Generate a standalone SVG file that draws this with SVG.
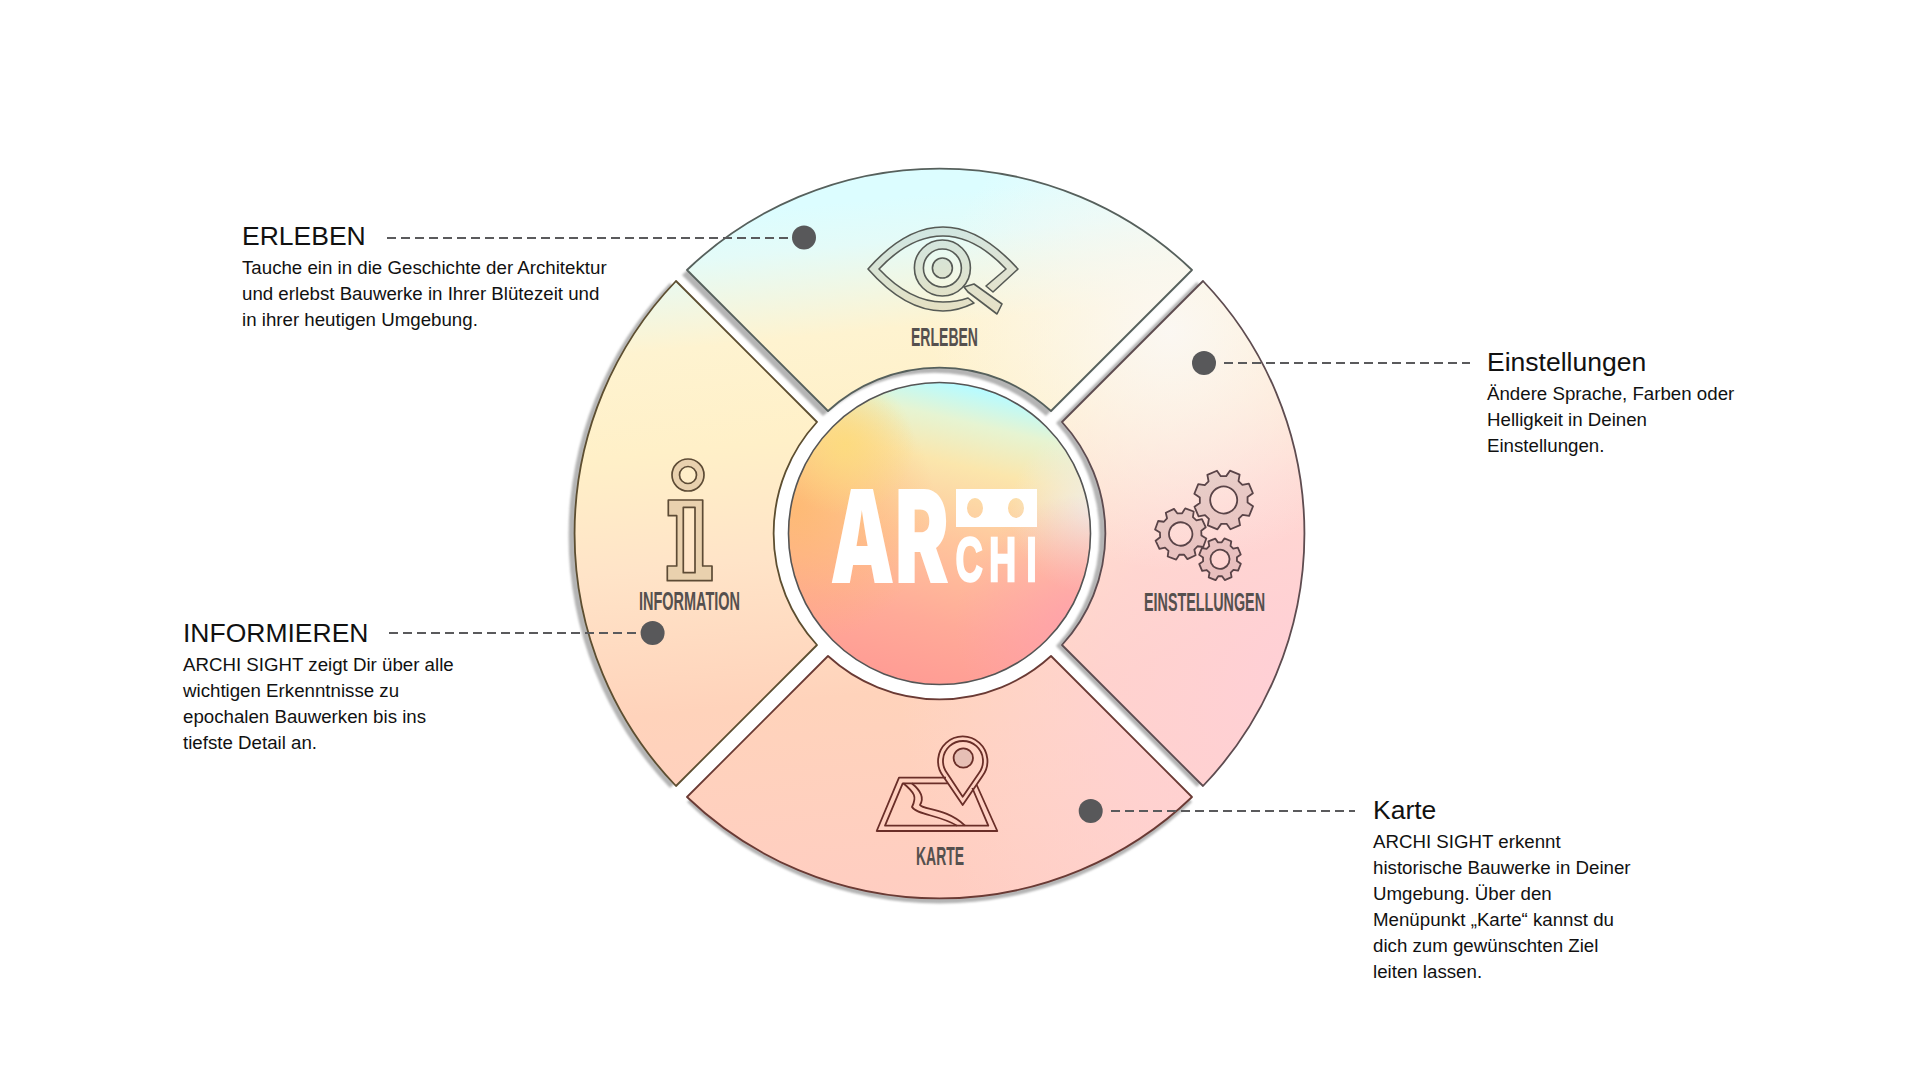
<svg xmlns="http://www.w3.org/2000/svg" width="1920" height="1080" viewBox="0 0 1920 1080">
<style>
.head{font-family:"Liberation Sans",Arial,sans-serif;font-size:26.5px;fill:#111}
.body{font-family:"Liberation Sans",Arial,sans-serif;font-size:18.7px;fill:#111}
.lab{font-family:"Liberation Sans Narrow","Liberation Sans",Arial,sans-serif;font-weight:700;font-size:25px;fill:#55504e}
.logo{font-family:Inter,"Liberation Sans",Arial,sans-serif;font-weight:900;fill:#fff}
.logo2{font-family:"Liberation Sans Narrow","Liberation Sans",Arial,sans-serif;font-weight:700;fill:#fff;stroke:#fff;stroke-width:2.4}
.lead{stroke:#5a5a5c;stroke-width:2;stroke-dasharray:9 5;fill:none}
.dot{fill:#58585a}
.wedge{fill:url(#wheel);stroke:none}
.outline{fill:none;stroke-width:1.8;stroke-linejoin:round}
.pink{fill:url(#pink);stroke:none}
.pale{fill:url(#pale);stroke:none}
.shadow{fill:#b4b4b4;filter:url(#blur)}
.gear{fill:#4a2a30;fill-opacity:.12;fill-rule:evenodd;stroke:#5a4448;stroke-linejoin:round}
</style>
<defs>
<filter id="blur" x="-10%" y="-10%" width="120%" height="120%"><feGaussianBlur stdDeviation="1"/></filter>
<linearGradient id="wheel" gradientUnits="userSpaceOnUse" x1="920" y1="180" x2="990" y2="900">
<stop offset="0.02" stop-color="#dcfdff"/><stop offset="0.08" stop-color="#e4fbf8"/><stop offset="0.2" stop-color="#fef3d0"/><stop offset="0.34" stop-color="#fff0c8"/><stop offset="0.5" stop-color="#ffe4c8"/><stop offset="0.7" stop-color="#ffd3bb"/><stop offset="1" stop-color="#ffcdc2"/>
</linearGradient>
<radialGradient id="pink" gradientUnits="userSpaceOnUse" cx="1310" cy="680" r="410">
<stop offset="0" stop-color="#ffcfd8" stop-opacity=".95"/><stop offset=".5" stop-color="#ffd2d6" stop-opacity=".7"/><stop offset="1" stop-color="#ffd8d8" stop-opacity="0"/>
</radialGradient>
<radialGradient id="pale" gradientUnits="userSpaceOnUse" cx="1170" cy="330" r="240">
<stop offset="0" stop-color="#fbf8f4" stop-opacity=".95"/><stop offset="1" stop-color="#fbf8f4" stop-opacity="0"/>
</radialGradient>
<linearGradient id="disc" gradientUnits="userSpaceOnUse" x1="985" y1="385" x2="915" y2="688">
<stop offset="0.02" stop-color="#b8fbff"/><stop offset="0.13" stop-color="#e6f4d2"/><stop offset="0.27" stop-color="#fbe6ac"/><stop offset="0.52" stop-color="#ffc49c"/><stop offset="0.78" stop-color="#ffaa98"/><stop offset="1" stop-color="#ff9b94"/>
</linearGradient>
<radialGradient id="discL" gradientUnits="userSpaceOnUse" cx="795" cy="505" r="140"><stop offset="0" stop-color="#fdb768" stop-opacity=".75"/><stop offset="1" stop-color="#fdb768" stop-opacity="0"/></radialGradient>
<radialGradient id="discY" gradientUnits="userSpaceOnUse" cx="845" cy="445" r="70"><stop offset="0" stop-color="#fddc7c" stop-opacity=".85"/><stop offset="1" stop-color="#fddc7c" stop-opacity="0"/></radialGradient>
<radialGradient id="discW" gradientUnits="userSpaceOnUse" cx="1095" cy="510" r="85"><stop offset="0" stop-color="#efeeea" stop-opacity=".95"/><stop offset="1" stop-color="#efeeea" stop-opacity="0"/></radialGradient>
<radialGradient id="discP" gradientUnits="userSpaceOnUse" cx="1085" cy="625" r="130"><stop offset="0" stop-color="#ff9cb0" stop-opacity=".8"/><stop offset="1" stop-color="#ff9cb0" stop-opacity="0"/></radialGradient>
<path id="wTop" d="M687,270 A365,365 0 0 1 1192,270 L1051,411 A165,165 0 0 0 828,411 Z"/>
<path id="wBot" d="M687,797 A365,365 0 0 0 1192,797 L1051,656 A165,165 0 0 1 828,656 Z"/>
<path id="wLeft" d="M676,281 A365,365 0 0 0 676,786 L817,645 A165,165 0 0 1 817,422 Z"/>
<path id="wRight" d="M1203,281 A365,365 0 0 1 1203,786 L1062,645 A165,165 0 0 0 1062,422 Z"/>
<path id="gearShape" d="M.7,.388L.819,.573L.573,.819L.388,.7L.221,.769L.174,.985L-.174,.985L-.221,.769L-.388,.7L-.573,.819L-.819,.573L-.7,.388L-.769,.221L-.985,.174L-.985,-.174L-.769,-.221L-.7,-.388L-.819,-.573L-.573,-.819L-.388,-.7L-.221,-.769L-.174,-.985L.174,-.985L.221,-.769L.388,-.7L.573,-.819L.819,-.573L.7,-.388L.769,-.221L.985,-.174L.985,.174L.769,.221ZM.45,0A.45,.45 0 1 0 -.45,0A.45,.45 0 1 0 .45,0Z"/>
</defs>
<rect width="1920" height="1080" fill="#fff"/>

<g id="wheel-shadows">
<use href="#wTop" class="shadow" transform="translate(-5,5)"/>
<use href="#wRight" class="shadow" transform="translate(-6,1)"/>
<use href="#wBot" class="shadow" transform="translate(0,5)"/>
<use href="#wLeft" class="shadow" transform="translate(-6,2)"/>
</g>

<g id="node-erleben">
<use href="#wTop" class="wedge"/><use href="#wTop" class="pale"/>
<use href="#wTop" class="outline" stroke="#56605c"/>
<g stroke="#565a55" stroke-width="1.6" stroke-linejoin="round" fill="#5a5a40" fill-opacity=".13">
<path d="M868,269Q905,227 943,227Q980,227 1018,269L993,292L986,286L1006,269Q975,236 943,236Q910,236 879,269Q910,302 943,302Q957,302 968,298L974,303Q958,311 943,311Q905,311 868,269Z"/>
<path fill-rule="evenodd" d="M970.4,268A28,28 0 1 0 914.4,268A28,28 0 1 0 970.4,268ZM961.4,268A19,19 0 1 1 923.4,268A19,19 0 1 1 961.4,268Z"/>
<circle cx="942.4" cy="268" r="10"/>
<path d="M964,287L974,284L1002,304L997,314L968,292Z"/>
</g>
<text class="lab" x="911" y="345.5" textLength="67" lengthAdjust="spacingAndGlyphs">ERLEBEN</text>
</g>

<g id="node-einstellungen">
<use href="#wRight" class="wedge"/><use href="#wRight" class="pink"/><use href="#wRight" class="pale"/>
<use href="#wRight" class="outline" stroke="#5e4c50"/>
<use href="#gearShape" class="gear" stroke-width=".06" transform="translate(1223.7,500) scale(30) rotate(22)"/>
<use href="#gearShape" class="gear" stroke-width=".069" transform="translate(1180.7,534) scale(26) rotate(20)"/>
<use href="#gearShape" class="gear" stroke-width=".085" transform="translate(1220,559.3) scale(21.3) rotate(22)"/>
<text class="lab" x="1144" y="611" textLength="121" lengthAdjust="spacingAndGlyphs">EINSTELLUNGEN</text>
</g>

<g id="node-karte">
<use href="#wBot" class="wedge"/><use href="#wBot" class="pink"/>
<use href="#wBot" class="outline" stroke="#6a3a34"/>
<g fill="none" stroke="#6a2e28" stroke-width="1.8" stroke-linejoin="round">
<path d="M946,777.7L899,777.7L876.7,831L997.3,831L976.7,785"/>
<path d="M948,783.3L902.7,783.3L885,825.7L988.3,825.7L972.3,788"/>
<path d="M903.3,783.3C915,793 917,797 912,807C917,815 940,815 957,825.7"/>
<path d="M911.7,783.3C920,790 925,797 920,805C923,810 947,808 965,825.7"/>
<path d="M962.7,805L943,776A24.7,24.7 0 1 1 982.5,776Z"/>
<path d="M962.7,796.7L947,773A20,20 0 1 1 979,773Z"/>
<circle cx="963.3" cy="758" r="9.7" fill="#e6bfb5"/>
</g>
<text class="lab" x="916" y="865" textLength="48" lengthAdjust="spacingAndGlyphs">KARTE</text>
</g>

<g id="node-information">
<use href="#wLeft" class="wedge"/>
<use href="#wLeft" class="outline" stroke="#5d4e30"/>
<g stroke="#5d4b35" stroke-width="1.7" stroke-linejoin="round" fill="#e9d1ae" fill-rule="evenodd">
<path d="M704,475A16,16 0 1 0 672,475A16,16 0 1 0 704,475ZM696.5,475A8.5,8.5 0 1 1 679.5,475A8.5,8.5 0 1 1 696.5,475Z"/>
<path d="M668.3,500L702.7,500L702.7,566L712,566L712,580.7L667.3,580.7L667.3,566L676.7,566L676.7,515.7L668.3,515.7ZM683.3,507.3L683.3,572.7L695,572.7L695,507.3Z"/>
</g>
<text class="lab" x="639" y="610" textLength="101" lengthAdjust="spacingAndGlyphs">INFORMATION</text>
</g>

<g id="node-center">
<circle cx="939.5" cy="533.5" r="151" fill="url(#disc)"/>
<circle cx="939.5" cy="533.5" r="151" fill="url(#discL)"/>
<circle cx="939.5" cy="533.5" r="151" fill="url(#discY)"/>
<circle cx="939.5" cy="533.5" r="151" fill="url(#discW)"/>
<circle cx="939.5" cy="533.5" r="151" fill="url(#discP)"/>
<circle cx="939.5" cy="533.5" r="151" fill="none" stroke="#555" stroke-width="1.6"/>
<text class="logo" x="830" y="583" font-size="129" textLength="119" lengthAdjust="spacingAndGlyphs">AR</text>
<text class="logo2" transform="translate(956,581) scale(.6,1)" font-size="63" x="-1 55 117" y="0">CHI</text>
<path fill="#fff" fill-rule="evenodd" d="M956,489H1037V527H956ZM983,508A8,10 0 1 0 967,508A8,10 0 1 0 983,508ZM1024,508A8,10 0 1 0 1008,508A8,10 0 1 0 1024,508Z"/>
</g>

<g id="connectors">
<line class="lead" x1="387" y1="238" x2="790" y2="238"/>
<line class="lead" x1="1224" y1="363" x2="1470" y2="363"/>
<line class="lead" x1="389" y1="633" x2="637" y2="633"/>
<line class="lead" x1="1111" y1="811" x2="1355" y2="811"/>
<circle class="dot" cx="804" cy="237.5" r="12"/>
<circle class="dot" cx="1204" cy="363" r="12"/>
<circle class="dot" cx="652.6" cy="633" r="12"/>
<circle class="dot" cx="1090.7" cy="811" r="12"/>
</g>

<g id="text-erleben">
<text class="head" x="242" y="245">ERLEBEN</text>
<text class="body" x="242" y="274">Tauche ein in die Geschichte der Architektur</text>
<text class="body" x="242" y="300">und erlebst Bauwerke in Ihrer Blütezeit und</text>
<text class="body" x="242" y="326">in ihrer heutigen Umgebung.</text>
</g>
<g id="text-einstellungen">
<text class="head" x="1487" y="371">Einstellungen</text>
<text class="body" x="1487" y="400">Ändere Sprache, Farben oder</text>
<text class="body" x="1487" y="426">Helligkeit in Deinen</text>
<text class="body" x="1487" y="452">Einstellungen.</text>
</g>
<g id="text-informieren">
<text class="head" x="183" y="642">INFORMIEREN</text>
<text class="body" x="183" y="671">ARCHI SIGHT zeigt Dir über alle</text>
<text class="body" x="183" y="697">wichtigen Erkenntnisse zu</text>
<text class="body" x="183" y="723">epochalen Bauwerken bis ins</text>
<text class="body" x="183" y="749">tiefste Detail an.</text>
</g>
<g id="text-karte">
<text class="head" x="1373" y="819">Karte</text>
<text class="body" x="1373" y="848">ARCHI SIGHT erkennt</text>
<text class="body" x="1373" y="874">historische Bauwerke in Deiner</text>
<text class="body" x="1373" y="900">Umgebung. Über den</text>
<text class="body" x="1373" y="926">Menüpunkt „Karte“ kannst du</text>
<text class="body" x="1373" y="952">dich zum gewünschten Ziel</text>
<text class="body" x="1373" y="978">leiten lassen.</text>
</g>
</svg>
